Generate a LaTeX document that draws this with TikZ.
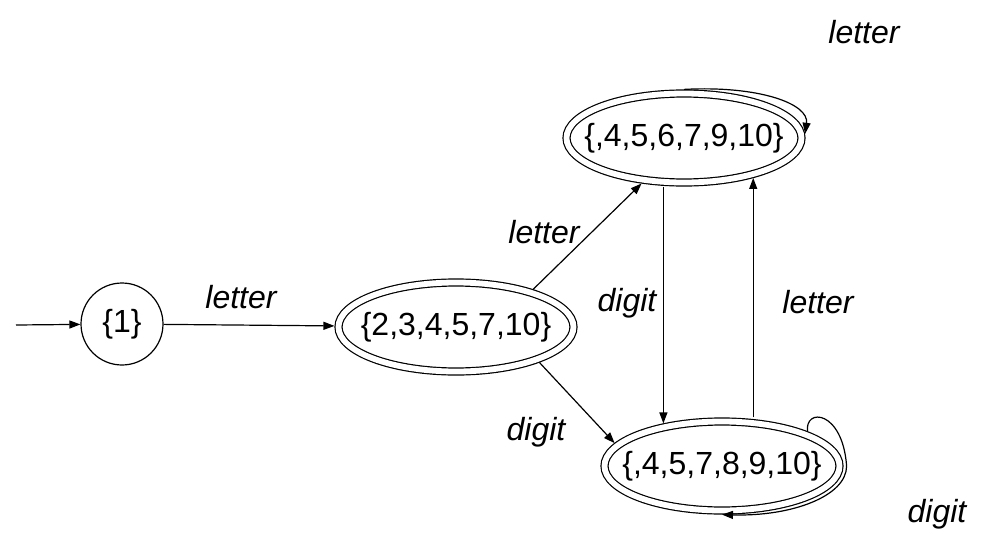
\documentclass[tikz,border=0pt]{standalone}
\usepackage{fontspec}
\setmainfont{Liberation Sans}
\usetikzlibrary{shapes.geometric, arrows.meta, positioning}
\tikzset{
    dstate/.style={circle, draw=black, line width=1.2pt, minimum size=82pt, inner sep=0pt, font=\fontsize{32}{38}\selectfont},
    accstate/.style={ellipse, draw=black, line width=1.2pt, double, double distance=5.8pt, minimum width=235pt, minimum height=89pt, inner xsep=-30pt, inner ysep=0pt, outer sep=4.1pt, font=\fontsize{32}{38}\selectfont},
    lbl/.style={font=\fontsize{32}{38}\selectfont\itshape, inner sep=0pt},
    arrow/.style={line width=1.2pt, -{Triangle[length=11pt, width=8pt]}}
}
\begin{document}
\begin{tikzpicture}[x=1pt, y=-1pt]
    \useasboundingbox (0,0) rectangle (996,533);
    \coordinate (entry) at (16,325);
    \node (s1) [dstate] at (122,324) {\{1\}};
    \node (s2) [accstate] at (456,327) {\{2,3,4,5,7,10\}};
    \node (s3) [accstate] at (684,138) {\{,4,5,6,7,9,10\}};
    \node (s4) [accstate] at (722,466) {\{,4,5,7,8,9,10\}};

    \node (l12) [lbl] at (241,297) {letter};
    \node (l23) [lbl] at (544,232) {letter};
    \node (l24) [lbl] at (536,432) {digit};
    \node (l34) [lbl] at (627,303) {digit};
    \node (l43) [lbl] at (818,302) {letter};
    \node (l33) [lbl] at (864,32) {letter};
    \node (l44) [lbl] at (937,514) {digit};

    \draw [arrow] (entry) -- (s1);
    \draw [arrow] (s1) -- (s2);
    \draw [arrow] (s2.26) -- (s3.227);
    \draw [arrow] (s2.-23) -- (s4.168);
    \draw [arrow] (s3.south -| s4.144) -- (s4.144);
    \draw [arrow] (s4.north -| s3.-30) -- (s3.-30);
    \draw [arrow] (s3.north) .. controls +(75,-4) and +(4,-30) .. (s3.2);
    \draw [arrow] (s4.22) .. controls +(-3,-24) and +(-4,-56) .. ([xshift=3pt]s4.east)
        .. controls +(0,30) and +(70,2) .. (s4.south);
\end{tikzpicture}
\end{document}
